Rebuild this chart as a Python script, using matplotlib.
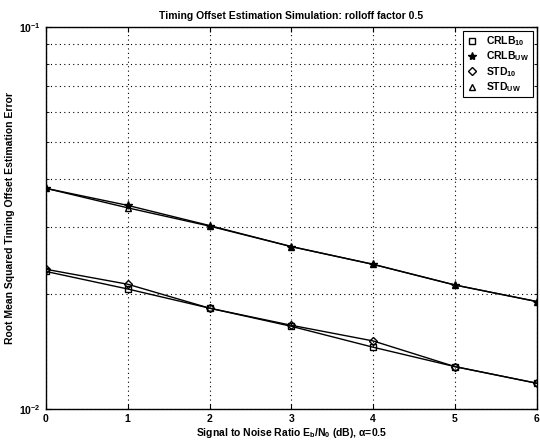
import numpy as np
import matplotlib
matplotlib.use('Agg')
import matplotlib.pyplot as plt
from matplotlib.ticker import LogLocator, NullFormatter

plt.rcParams['font.family'] = ['Liberation Sans', 'DejaVu Sans']
plt.rcParams['mathtext.fontset'] = 'custom'
plt.rcParams['mathtext.rm'] = 'Liberation Sans:bold'
plt.rcParams['mathtext.it'] = 'Liberation Sans:bold'
plt.rcParams['mathtext.bf'] = 'Liberation Sans:bold'

snr = [0, 1, 2, 3, 4, 5, 6]
crlb_io = [0.0229, 0.0206, 0.01835, 0.01645, 0.0145, 0.0129, 0.01167]
crlb_uw = [0.0378, 0.0341, 0.0302, 0.0266, 0.0239, 0.0211, 0.0191]
std_io = [0.0232, 0.0212, 0.01835, 0.01655, 0.01506, 0.0129, 0.01167]
std_uw = [0.0378, 0.0336, 0.0301, 0.0266, 0.0239, 0.0211, 0.0191]
labels = ['CRLB$_{10}$', 'CRLB$_{UW}$', 'STD$_{10}$', 'STD$_{UW}$']

fig = plt.figure(figsize=(5.4, 4.42), dpi=100)
ax = fig.add_axes([0.085, 0.075, 0.909, 0.864])

series = [crlb_io, crlb_uw, std_io, std_uw]
markers = ['s', '*', 'D', '^']
msizes = [4, 6, 4, 5]
for y in series:
    ax.semilogy(snr, y, 'k-', linewidth=1.0)
for y, m, ms, lab in zip(series, markers, msizes, labels):
    ax.semilogy(snr, y, 'k', linestyle='none', marker=m, markersize=ms,
                markerfacecolor='none' if m != '*' else 'k', markeredgewidth=1.0,
                label=lab)

ax.set_xlim(0, 6)
ax.set_ylim(1e-2, 1e-1)
ax.set_xticks(snr)
ax.yaxis.set_minor_locator(LogLocator(base=10, subs=np.arange(2, 10)))
ax.yaxis.set_minor_formatter(NullFormatter())
ax.grid(True, which='both', linestyle=(0, (1, 3)), color='k', linewidth=0.8)
ax.tick_params(direction='in', which='both', top=True, right=True, labelsize=7.5)
for lbl in ax.get_xticklabels() + ax.get_yticklabels():
    lbl.set_fontweight('bold')
for s in ax.spines.values():
    s.set_linewidth(1.0)

ax.set_title('Timing Offset Estimation Simulation: rolloff factor 0.5',
             fontsize=7.5, fontweight='bold', pad=6)
ax.set_xlabel(r'Signal to Noise Ratio E$_b$/N$_0$ (dB), $\alpha$=0.5',
              fontsize=7.5, fontweight='bold', labelpad=2)
ax.set_ylabel('Root Mean Squared Timing Offset Estimation Error',
              fontsize=7.5, fontweight='bold')
ax.yaxis.set_label_coords(-0.063, 0.5)

leg = ax.legend(loc='upper right', fancybox=False, framealpha=1,
                edgecolor='k', handlelength=1.2, borderaxespad=0.4,
                labelspacing=0.15, borderpad=0.3,
                prop={'weight': 'bold', 'size': 7.5})
leg.get_frame().set_linewidth(0.8)

plt.savefig('out.png', dpi=100)
